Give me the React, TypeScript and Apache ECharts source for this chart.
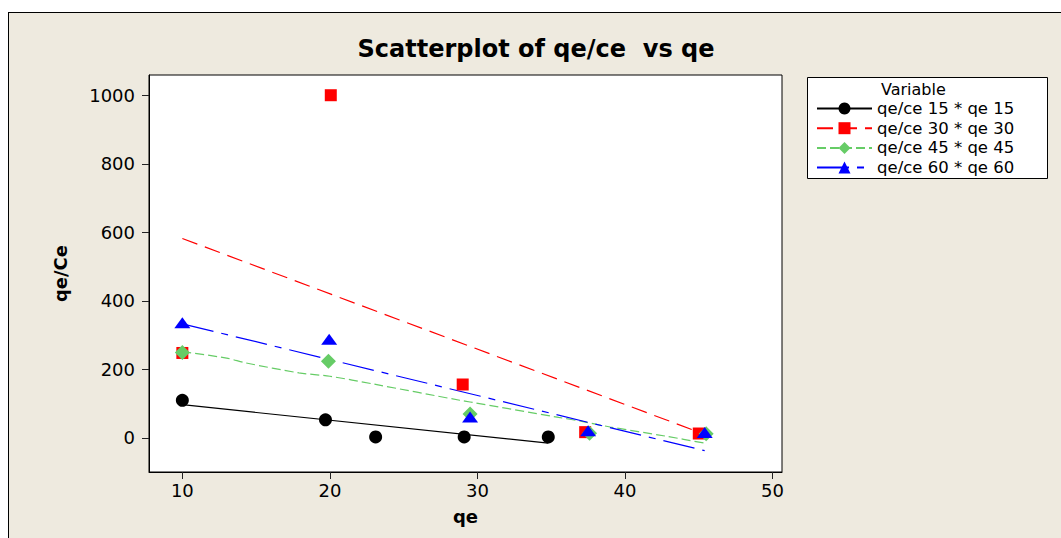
import React, { useEffect, useRef } from "react";
import * as echarts from "echarts";

// ---- data ----
const seriesNames = [
  "qe/ce 15 * qe 15",
  "qe/ce 30 * qe 30",
  "qe/ce 45 * qe 45",
  "qe/ce 60 * qe 60",
];

const qe15 = [10, 19.7, 23.1, 29.1, 34.8];
const qc15 = [110, 53, 3, 3, 3];
const qe30 = [10, 20.06, 29.0, 37.3, 45.0];
const qc30 = [248, 1000, 156, 17, 13];
const qe45 = [10, 19.9, 29.5, 37.6, 45.5];
const qc45 = [249, 224, 70, 14, 12];
const qe60 = [10, 19.95, 29.5, 37.5, 45.4];
const qc60 = [336, 288, 61, 21, 16];

// fitted lines as drawn in the reference
const fitX15 = [10, 34.8];
const fitY15 = [97, -15];
const fitX30 = [10, 45];
const fitY30 = [582, 17];
const fitX45 = [10, 13, 14.3, 17.9, 20, 23, 28.8, 29.5, 35.5, 37, 39, 42.8, 45.5];
const fitY45 = [252, 233, 219, 190, 180, 157, 110, 105, 60, 49, 32, 5, -16];
const fitX60 = [10, 45.4];
const fitY60 = [333, -37];

const xTicks = [10, 20, 30, 40, 50];
const yTicks = [0, 200, 400, 600, 800, 1000];

const FONT = "DejaVu Sans";

export default function App() {
  const ref = useRef<HTMLDivElement>(null);

  useEffect(() => {
    if (!ref.current) return;
    const chart = echarts.init(ref.current, null, { renderer: "svg" });

    const colors = ["#000000", "#FF0000", "#66CC66", "#0000FF"];
    const symbols = ["circle", "rect", "diamond", "triangle"];
    const symSizes: any[] = [13, 12, 15, [16, 11]];
    const dashes: any[] = ["solid", [16, 8], [9, 4], [32, 8, 7, 8]];
    const pts = [
      [qe15, qc15],
      [qe30, qc30],
      [qe45, qc45],
      [qe60, qc60],
    ];
    const fits = [
      [fitX15, fitY15],
      [fitX30, fitY30],
      [fitX45, fitY45],
      [fitX60, fitY60],
    ];

    const series: any[] = [];
    seriesNames.forEach((name, i) => {
      series.push({
        name,
        type: "line",
        data: fits[i][0].map((x, k) => [x, fits[i][1][k]]),
        symbol: symbols[i],
        showSymbol: false,
        smooth: i === 2 ? 0.3 : false,
        lineStyle: { color: colors[i], width: 1.2, type: dashes[i] },
        itemStyle: { color: colors[i] },
        z: 2,
        silent: true,
      });
      series.push({
        name,
        type: "scatter",
        data: pts[i][0].map((x, k) => [x, pts[i][1][k]]),
        symbol: symbols[i],
        symbolSize: symSizes[i],
        itemStyle: { color: colors[i], opacity: 1 },
        z: 3,
        silent: true,
      });
    });

    chart.setOption({
      animation: false,
      backgroundColor: "transparent",
      textStyle: { fontFamily: FONT },
      title: {
        text: "Scatterplot of qe/ce  vs qe",
        left: 536,
        textAlign: "center",
        top: 37,
        padding: 0,
        textStyle: {
          fontFamily: FONT,
          fontWeight: "bold",
          fontSize: 24,
          color: "#000",
        },
      },
      legend: {
        orient: "vertical",
        left: 807,
        top: 77,
        padding: [23, 10, 3, 9],
        itemWidth: 55,
        itemHeight: 15,
        itemGap: 2.7,
        itemTextGap: 11,
        borderWidth: 0,
        selectedMode: false,
        data: seriesNames,
        z: 10,
        textStyle: { fontFamily: FONT, fontSize: 16.5, color: "#000" },
      },
      graphic: [
        {
          type: "rect",
          z: 1,
          silent: true,
          shape: { x: 807.5, y: 77.5, width: 240, height: 101 },
          style: { fill: "#ffffff", stroke: "#000000", lineWidth: 1 },
        },
        {
          type: "text",
          left: 881,
          top: 81,
          z: 100,
          style: {
            text: "Variable",
            fontFamily: FONT,
            fontSize: 16,
            fill: "#000",
          },
        },
      ],
      grid: {
        left: 149,
        top: 75,
        right: 279,
        bottom: 66,
        show: true,
        backgroundColor: "#ffffff",
        borderColor: "#000",
        borderWidth: 1,
        containLabel: false,
      },
      xAxis: {
        type: "value",
        min: 7.74,
        max: 50.64,
        name: "qe",
        nameLocation: "middle",
        nameGap: 35,
        nameTextStyle: {
          fontFamily: FONT,
          fontWeight: "bold",
          fontSize: 18,
          color: "#000",
        },
        axisLine: { show: true, onZero: false, lineStyle: { color: "#000", width: 1 } },
        axisTick: {
          show: true,
          length: 7,
          customValues: xTicks,
          lineStyle: { color: "#222" },
        },
        axisLabel: {
          customValues: xTicks,
          formatter: (v: number) => String(v),
          fontFamily: FONT,
          fontSize: 18,
          color: "#000",
          margin: 9,
        },
        splitLine: { show: false },
      },
      yAxis: {
        type: "value",
        min: -99.3,
        max: 1059,
        name: "qe/Ce",
        nameLocation: "middle",
        nameGap: 80,
        nameRotate: 90,
        nameTextStyle: {
          fontFamily: FONT,
          fontWeight: "bold",
          fontSize: 18,
          color: "#000",
        },
        axisLine: { show: true, onZero: false, lineStyle: { color: "#000", width: 1 } },
        axisTick: {
          show: true,
          length: 7,
          customValues: yTicks,
          lineStyle: { color: "#222" },
        },
        axisLabel: {
          customValues: yTicks,
          formatter: (v: number) => String(v),
          fontFamily: FONT,
          fontSize: 18,
          color: "#000",
          margin: 14,
        },
        splitLine: { show: false },
      },
      series,
    });

    return () => chart.dispose();
  }, []);

  return (
    <>
      <div
        style={{
          position: "absolute",
          left: 0,
          top: 0,
          width: 1061,
          height: 538,
          background: "#ffffff",
        }}
      />
      <div
        style={{
          position: "absolute",
          left: 8,
          top: 12,
          width: 1053,
          height: 526,
          boxSizing: "border-box",
          background: "#EEEADF",
          borderTop: "1px solid #000",
          borderLeft: "1px solid #000",
        }}
      />
      <div
        ref={ref}
        style={{ position: "absolute", left: 0, top: 0, width: 1061, height: 538 }}
      />
    </>
  );
}
